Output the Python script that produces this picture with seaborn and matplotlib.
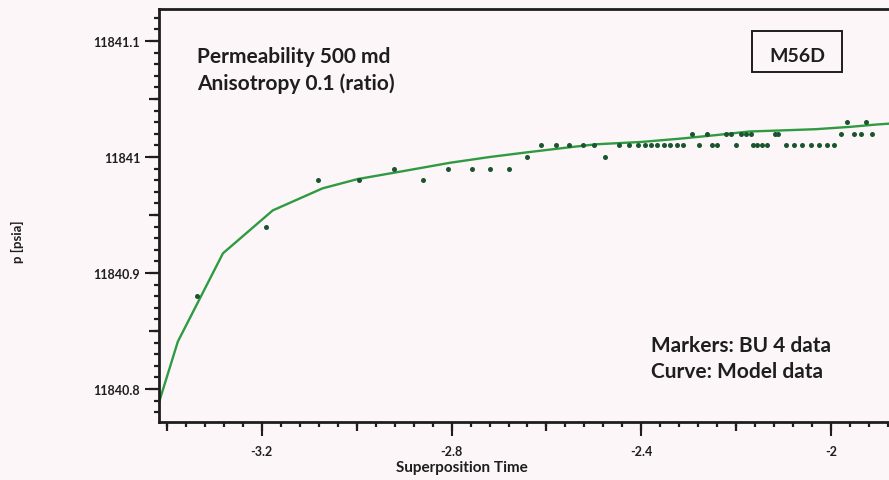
import matplotlib
matplotlib.use("Agg")
import matplotlib.pyplot as plt
from matplotlib.patches import Rectangle
from matplotlib.ticker import FixedLocator, MultipleLocator, NullFormatter
import pandas as pd
import seaborn as sns

# Build-up 4 gauge readings: superposition time vs pressure (psia)
bu_time = [-3.337, -3.192, -3.082, -2.996, -2.922, -2.861, -2.808, -2.758,
           -2.718, -2.680, -2.642, -2.611, -2.579, -2.552, -2.524, -2.499,
           -2.476, -2.448, -2.426, -2.406, -2.393, -2.380, -2.366, -2.352,
           -2.339, -2.325, -2.312, -2.293, -2.278, -2.261, -2.251, -2.240,
           -2.221, -2.211, -2.200, -2.189, -2.179, -2.168, -2.164, -2.156,
           -2.145, -2.135, -2.118, -2.112, -2.095, -2.078, -2.061, -2.042,
           -2.025, -2.008, -1.994, -1.979, -1.966, -1.952, -1.937, -1.926,
           -1.914]
bu_pressure = [11840.88, 11840.94, 11840.98, 11840.98, 11840.99, 11840.98,
               11840.99, 11840.99, 11840.99, 11840.99, 11841.00, 11841.01,
               11841.01, 11841.01, 11841.01, 11841.01, 11841.00, 11841.01,
               11841.01, 11841.01, 11841.01, 11841.01, 11841.01, 11841.01,
               11841.01, 11841.01, 11841.01, 11841.02, 11841.01, 11841.02,
               11841.01, 11841.01, 11841.02, 11841.02, 11841.01, 11841.02,
               11841.02, 11841.02, 11841.01, 11841.01, 11841.01, 11841.01,
               11841.02, 11841.02, 11841.01, 11841.01, 11841.01, 11841.01,
               11841.01, 11841.01, 11841.01, 11841.02, 11841.03, 11841.02,
               11841.02, 11841.03, 11841.02]

# Model response (permeability 500 md, anisotropy 0.1)
model_time = [-3.418, -3.377, -3.282, -3.177, -3.072, -2.998, -2.900, -2.804,
              -2.720, -2.642, -2.560, -2.495, -2.400, -2.314, -2.240, -2.173,
              -2.100, -2.032, -1.960, -1.905, -1.870]
model_pressure = [11840.787, 11840.841, 11840.917, 11840.954, 11840.973,
                  11840.981, 11840.988, 11840.995, 11841.000, 11841.004,
                  11841.008, 11841.011, 11841.013, 11841.016, 11841.019,
                  11841.022, 11841.023, 11841.024, 11841.026, 11841.028,
                  11841.029]

x_ticks = [-3.2, -2.8, -2.4, -2.0]
x_tick_labels = ["-3.2", "-2.8", "-2.4", "-2"]
y_ticks = [11840.8, 11840.9, 11841.0, 11841.1]
y_tick_labels = ["11840.8", "11840.9", "11841", "11841.1"]

BG = "#fcf6f8"
INK = "#1e1e1e"
LINE_GREEN = "#2f9a42"
MARKER_GREEN = "#1a5530"

sns.set_theme(style="ticks")
plt.rcParams["font.family"] = ["Lato", "DejaVu Sans"]
plt.rcParams["axes.edgecolor"] = INK
plt.rcParams["xtick.color"] = INK
plt.rcParams["ytick.color"] = INK

fig = plt.figure(figsize=(8.89, 4.81), dpi=100, facecolor=BG)
ax = fig.add_axes([159 / 889, 1 - 423 / 481, 730 / 889, 413 / 481])
ax.set_facecolor(BG)

model_df = pd.DataFrame({"time": model_time, "pressure": model_pressure})
bu_df = pd.DataFrame({"time": bu_time, "pressure": bu_pressure})

sns.scatterplot(data=bu_df, x="time", y="pressure", ax=ax, marker="o", s=13,
                color=MARKER_GREEN, linewidth=0, zorder=3)
sns.lineplot(data=model_df, x="time", y="pressure", ax=ax, sort=False,
             color=LINE_GREEN, linewidth=1.7, zorder=2)

ax.set_xlim(-3.4168, -1.8779)
ax.set_ylim(11840.7716, 11841.1276)

for side in ("left", "bottom", "top"):
    ax.spines[side].set_linewidth(2.0)
    ax.spines[side].set_color(INK)
ax.spines["right"].set_visible(False)

ax.xaxis.set_major_locator(FixedLocator(x_ticks))
ax.set_xticklabels(x_tick_labels)
ax.yaxis.set_major_locator(FixedLocator(y_ticks))
ax.set_yticklabels(y_tick_labels)
ax.xaxis.set_minor_locator(MultipleLocator(0.04))
ax.yaxis.set_minor_locator(MultipleLocator(0.01))

ax.tick_params(axis="both", which="major", direction="out", length=10,
               width=1.5, labelsize=9, colors=INK)
ax.tick_params(axis="y", which="major", pad=3.5)
ax.tick_params(axis="x", which="major", pad=6.5)
ax.tick_params(axis="both", which="minor", direction="out", length=3.5,
               width=1.6, colors=INK)
for lab in ax.get_xticklabels() + ax.get_yticklabels():
    lab.set_fontweight("bold")

# intermediate-length ticks at half steps
sec_x = ax.secondary_xaxis("bottom")
sec_x.xaxis.set_major_locator(MultipleLocator(0.2))
sec_x.xaxis.set_major_formatter(NullFormatter())
sec_x.tick_params(axis="x", direction="out", length=6.5, width=1.6, colors=INK)
sec_x.spines["bottom"].set_visible(False)

sec_y = ax.secondary_yaxis("left")
sec_y.yaxis.set_major_locator(MultipleLocator(0.05))
sec_y.yaxis.set_major_formatter(NullFormatter())
sec_y.tick_params(axis="y", direction="out", length=7, width=1.6, colors=INK)
sec_y.spines["left"].set_visible(False)

ax.set_xlabel("")
ax.set_ylabel("")
fig.text(462 / 889, 1 - 468 / 481, "Superposition Time", ha="center",
         va="center", fontsize=11, fontweight="bold", color=INK)
fig.text(17 / 889, 1 - 242 / 481, "p [psia]", ha="center", va="center",
         rotation=90, fontsize=9.5, fontweight="bold", color=INK)


def ax_frac(px, py):
    return (px - 159) / 730, (423 - py) / 413


for txt, py in (("Permeability 500 md", 63), ("Anisotropy 0.1 (ratio)", 90)):
    x0, y0 = ax_frac(197, py)
    ax.text(x0, y0, txt, transform=ax.transAxes, ha="left", va="baseline",
            fontsize=15, fontweight="bold", color=INK)

for txt, py in (("Markers: BU 4 data", 352), ("Curve: Model data", 378)):
    x0, y0 = ax_frac(651, py)
    ax.text(x0, y0, txt, transform=ax.transAxes, ha="left", va="baseline",
            fontsize=15, fontweight="bold", color=INK)

bx0, by0 = ax_frac(752, 73)
bx1, by1 = ax_frac(842, 32)
ax.add_patch(Rectangle((bx0, by0), bx1 - bx0, by1 - by0, transform=ax.transAxes,
                       fill=False, linewidth=1.4, edgecolor=INK, zorder=4))
mx, my = ax_frac(797, 62)
ax.text(mx, my, "M56D", transform=ax.transAxes, ha="center", va="baseline",
        fontsize=14, fontweight="bold", color=INK)

fig.savefig("out.png", dpi=100, facecolor=BG)
